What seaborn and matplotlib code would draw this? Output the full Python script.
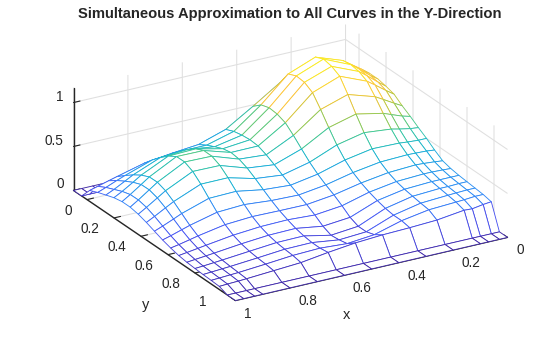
import numpy as np
import matplotlib
matplotlib.use("Agg")
import matplotlib.pyplot as plt
import seaborn as sns
from mpl_toolkits.mplot3d import proj3d

x_vals = [0, .03, .07, .1, .2, .3, .4, .5, .6, .7, .8, .9, .93, .97, 1]
y_vals = [-.1, -.04, .02, .08, .14, .2, .26, .32, .38, .44, .5, .56, .62, .68, .74, .8, .86, .92, .98, 1.04, 1.1]
z_a = [0]*15
z_b = [0]*15
z_c = [.71,.76,.82,.87,.95,.85,.65,.46,.36,.33,.29,.21,.185,.15,.125]
z_d = [.80,.87,.955,1.02,1.13,1.01,.73,.50,.415,.415,.39,.285,.25,.20,.165]
z_e = [.80,.865,.965,1.035,1.17,1.05,.76,.52,.46,.50,.48,.355,.305,.24,.198]
z_f = [.78,.85,.95,1.02,1.15,1.04,.75,.53,.50,.57,.56,.415,.355,.28,.23]
z_g = [.752,.816,.907,.972,1.10,.985,.714,.522,.52,.614,.617,.457,.392,.307,.248]
z_h = [.683,.734,.806,.858,.955,.856,.633,.484,.507,.612,.618,.459,.394,.308,.248]
z_i = [.625,.65,.696,.732,.795,.713,.541,.434,.468,.569,.573,.425,.365,.286,.23]
z_j = [.56,.57,.594,.615,.646,.578,.453,.379,.411,.492,.491,.364,.314,.246,.199]
z_k = [.50,.50,.509,.518,.525,.469,.38,.326,.347,.40,.392,.291,.25,.198,.162]
z_l = [.43,.44,.445,.448,.437,.389,.32,.277,.286,.312,.296,.219,.19,.151,.125]
z_m = [.37,.38,.39,.395,.379,.333,.269,.231,.233,.238,.218,.161,.14,.113,.096]
z_n = [.345,.35,.355,.355,.34,.291,.208,.175,.192,.186,.161,.118,.104,.086,.073]
z_o = [.33,.33,.33,.33,.315,.258,.139,.11,.157,.151,.125,.091,.081,.069,.059]
z_p = [.32,.32,.315,.315,.298,.232,.10,.07,.134,.13,.103,.075,.067,.057,.051]
z_q = [.31,.31,.305,.30,.282,.217,.10,.08,.121,.117,.09,.065,.059,.051,.045]
z_r = [.30,.30,.29,.285,.269,.217,.13,.10,.12,.109,.082,.058,.053,.046,.041]
z_s = [.28,.27,.25,.255,.215,.20,.19,.17,.134,.09,.07,.05,.045,.04,.035]
z_t = [0]*15
z_u = [0]*15
z_rows = [z_a, z_b, z_c, z_d, z_e, z_f, z_g, z_h, z_i, z_j, z_k, z_l, z_m, z_n, z_o, z_p, z_q, z_r, z_s, z_t, z_u]
x_ticks = [0, .2, .4, .6, .8, 1]
y_ticks = [0, .2, .4, .6, .8, 1]
z_ticks = [0, .5, 1]
tick_labels_xy = ["0", "0.2", "0.4", "0.6", "0.8", "1"]
tick_labels_z = ["0", "0.5", "1"]
parula = ["#3e26a8", "#4752f4", "#2d87f7", "#12b1d6", "#37c897", "#abc739", "#fec338", "#fbd92a", "#f9fb15"]

sns.set_theme(style="white", rc={"font.family": ["Liberation Sans", "DejaVu Sans"]})
cmap = sns.blend_palette(parula, n_colors=256, as_cmap=True)

W, H = 560, 337
fig = plt.figure(figsize=(W/100, H/100), dpi=100, facecolor="white")
side = 450
cx, cy = 290.5, 174.5
ax = fig.add_axes([(cx - .5135*side)/W, (cy - .5135*side)/H, side/W, side/H],
                  projection="3d", proj_type="ortho", facecolor="none")
ax.set_xlim(0, 1, view_margin=0)
ax.set_ylim(-.1, 1.1, view_margin=0)
ax.set_zlim(0, 1.17, view_margin=0)
ax.set_box_aspect((315, 321, 112))
ax.view_init(elev=23.4, azim=59.7)

X, Y = np.meshgrid(x_vals, y_vals)
Z = np.array(z_rows, dtype=float)
surf = ax.plot_surface(X, Y, Z, rstride=1, cstride=1, color="white", shade=False, linewidth=.62)
mean_z = (Z[:-1, :-1] + Z[1:, :-1] + Z[:-1, 1:] + Z[1:, 1:]) / 4
surf.set_edgecolor(cmap((mean_z / 1.17).ravel()))

ink = "#262626"
ax.set_xticks(x_ticks)
ax.set_yticks(y_ticks)
ax.set_zticks(z_ticks)
for axis in (ax.xaxis, ax.yaxis, ax.zaxis):
    axis.pane.set_facecolor((1, 1, 1, 0))
    axis.pane.set_edgecolor((1, 1, 1, 0))
    axis.line.set_color(ink)
    axis.line.set_linewidth(1.0)
    axis._axinfo["grid"].update(color="#dfdfdf", linewidth=.75)
    axis._axinfo["tick"].update(inward_factor=0, outward_factor=.3, linewidth={True: .8, False: .5})
    axis._axinfo["tick"]["color"] = ink
    axis.set_tick_params(label1On=False, colors=ink)
    axis.label.set_visible(False)
    axis.offsetText.set_visible(False)
ax.zaxis.set_ticks_position("lower")
ax.zaxis.set_label_position("lower")
for t in (ax.title, ax._left_title, ax._right_title):
    t.set_visible(False)

fig.canvas.draw()
fs = 9.8


def label_at(px, py, pz, text, ha):
    u, v, _ = proj3d.proj_transform(px, py, pz, ax.get_proj())
    fx, fy = ax.transData.transform((u, v))
    fig.text(fx/W, fy/H, text, ha=ha, va="center", fontsize=fs, color=ink)


for xv, s in zip(x_ticks, tick_labels_xy):
    label_at(xv + .0291, 1.1 + .1218, 0, s, "left")
for yv, s in zip(y_ticks, tick_labels_xy):
    label_at(1 + .0855, yv + .0612, 0, s, "right")
for zv, s in zip(z_ticks, tick_labels_z):
    label_at(1.0368, -.1, zv + .094, s, "right")

fig.text(290/W, 1 - 14/H, "Simultaneous Approximation to All Curves in the Y-Direction",
         ha="center", va="center", fontsize=10.6, fontweight="bold", color=ink)
fig.text(347/W, 1 - 315/H, "x", ha="center", va="center", fontsize=10.5, color=ink)
fig.text(146/W, 1 - 305/H, "y", ha="center", va="center", fontsize=10.5, color=ink)

fig.savefig("out.png", dpi=100)
